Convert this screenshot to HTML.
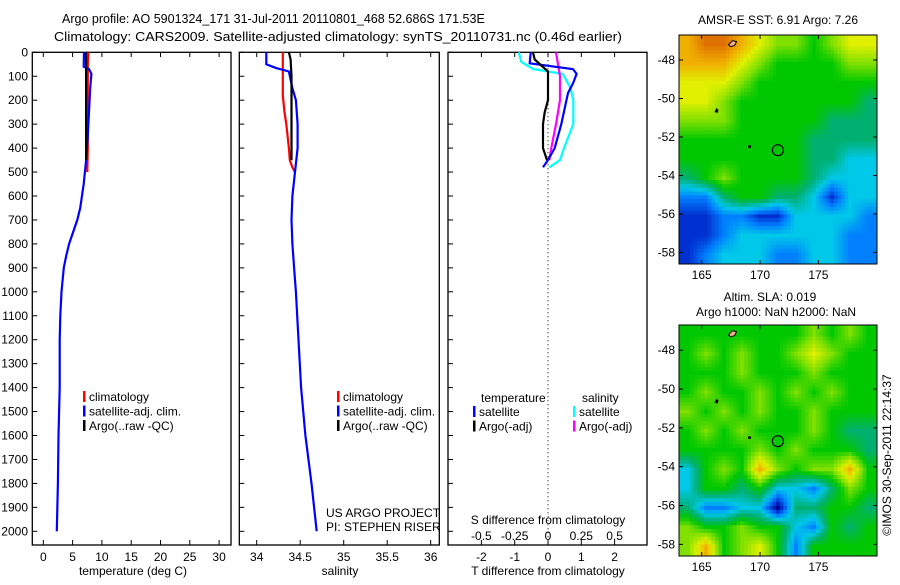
<!DOCTYPE html>
<html><head><meta charset="utf-8">
<style>
body{margin:0;background:#fff;}
svg text{font-family:"Liberation Sans",sans-serif;font-size:12px;fill:#000;}
</style></head>
<body>
<svg id="fig" width="900" height="580" viewBox="0 0 900 580" xmlns="http://www.w3.org/2000/svg">
<defs>
<clipPath id="clipA"><rect x="679" y="35" width="198" height="229"/></clipPath>
<clipPath id="clipB"><rect x="679" y="325" width="198" height="231"/></clipPath>
</defs>
<g>
<text x="62" y="23" style="font-size:12.5px">Argo profile: AO 5901324_171 31-Jul-2011 20110801_468 52.686S 171.53E</text>
<text x="54" y="41" style="font-size:13px" textLength="568" lengthAdjust="spacingAndGlyphs">Climatology: CARS2009. Satellite-adjusted climatology: synTS_20110731.nc (0.46d earlier)</text>
</g>
</svg>
<script>
// ---- data ----
const depthTicks=[0,100,200,300,400,500,600,700,800,900,1000,1100,1200,1300,1400,1500,1600,1700,1800,1900,2000];
const tempTicks=[0,5,10,15,20,25,30];
const salTicks=[34,34.5,35,35.5,36];
const tdiffTicks=[-2,-1,0,1,2];
const sdiffTicks=[-0.5,-0.25,0,0.25,0.5];
const sdiffLabels=["-0.5","-0.25","0","0.25","0.5"];
const tClimDepth=[0,50,100,200,300,400,500];
const tClimVal=[7.7,7.6,7.6,7.6,7.6,7.6,7.5];
const tSatDepth=[0,60,70,90,150,250,350,450,550,650,700,750,800,850,900,1000,1100,1200,1400,1600,1800,2000];
const tSatVal=[6.95,6.9,7.8,8.2,8.0,7.8,7.6,7.3,6.9,6.3,5.8,5.1,4.4,3.9,3.5,3.1,2.9,2.8,2.8,2.6,2.5,2.3];
const tArgoDepth=[0,100,200,300,450];
const tArgoVal=[7.3,7.3,7.3,7.3,7.3];
const sClimDepth=[0,180,250,300,400,450,480,500];
const sClimVal=[34.30,34.30,34.32,34.34,34.37,34.38,34.41,34.44];
const sSatDepth=[0,50,65,80,150,200,300,400,500,600,700,800,900,1000,1200,1400,1600,1800,2000];
const sSatVal=[34.11,34.11,34.22,34.37,34.41,34.45,34.47,34.47,34.44,34.41,34.40,34.41,34.43,34.45,34.48,34.51,34.56,34.63,34.69];
const sArgoDepth=[0,30,100,200,300,450];
const sArgoVal=[34.37,34.39,34.40,34.40,34.40,34.40];
const dTSatDepth=[0,46,70,90,130,170,300,400,450,480];
const dTSatVal=[-0.52,-0.55,0.75,0.86,0.75,0.6,0.4,0.2,0.0,-0.15];
const dTArgoDepth=[0,30,80,200,250,300,400,450];
const dTArgoVal=[-0.45,-0.4,0.0,0.0,-0.1,-0.15,-0.15,-0.03];
const dSSatDepth=[0,40,70,90,150,200,300,400,450,480];
const dSSatVal=[-0.22,-0.2,-0.11,0.11,0.17,0.19,0.19,0.12,0.09,0.01];
const dSArgoDepth=[0,100,200,300,400,450];
const dSArgoVal=[0.06,0.09,0.09,0.06,0.025,0.01];
const latTicks=[-48,-50,-52,-54,-56,-58];
const lonTicks=[165,170,175];
const sstGrid=[
[8,9,9,8,7,6,6,5,6,7,7],
[8,8,8,7,6,5,5,5,5,6,6],
[7,7,7,6,5,5,5,5,5,5,5],
[7,7,6,5,5,5,5,5,5,5,4],
[6,6,6,5,5,5,5,5,4,4,4],
[5,5,5,5,5,5,5,4,4,4,4],
[5,5,5,5,5,5,5,4,4,3,3],
[4,5,6,5,5,5,5,4,3,3,3],
[2,2,4,5,5,4,4,3,1,3,3],
[1,1,2,2,1,1,3,3,3,3,2],
[1,1,2,3,3,3,3,3,3,2,2],
[1,2,3,3,3,2,2,3,3,2,2]];
const slaGrid=[
[5,5,5,5,5,5,5,6,5,6,5],
[5,6,5,6,5,5,6,7,6,5,5],
[5,5,5,6,5,5,5,6,5,5,5],
[5,6,5,5,6,5,6,5,6,5,5],
[6,5,6,5,6,5,5,6,5,5,5],
[5,6,5,6,5,5,5,6,5,4,4],
[5,5,5,5,6,5,6,5,5,5,4],
[3,5,6,5,8,6,5,6,6,8,5],
[3,5,5,4,5,3,3,2,4,6,5],
[4,2,2,3,3,0,4,4,5,5,4],
[6,5,5,6,5,5,3,2,5,4,5],
[6,8,5,6,7,5,2,5,5,5,5]];
const cmap=["#00008f","#0030d0","#0080ff","#00c8e8","#00b070","#00c800","#80e000","#e0f000","#f0b000","#e07000"];

// ---- helpers ----
const svg=document.getElementById('fig');
const NS="http://www.w3.org/2000/svg";
function mk(tag,attrs,parent){const e=document.createElementNS(NS,tag);for(const k in attrs)e.setAttribute(k,attrs[k]);(parent||svg).appendChild(e);return e;}
function txt(x,y,s,anchor,parent){const t=mk('text',{x:x,y:y,'text-anchor':anchor||'start'},parent);t.textContent=s;return t;}
const Y0=52.3,PY=0.2395;
const yD=d=>Y0+d*PY;
const xT=v=>43.3+v*5.86;
const xS=v=>256.7+(v-34)*87;
const xDT=v=>548+v*33.3;
const xDS=v=>548+v*4*33.3;

function panel(name,x0,x1){
  const g=mk('g',{});
  
  
  mk('rect',{x:x0,y:52.3,width:x1-x0,height:545-52.3,fill:'none',stroke:'#000','stroke-width':1.3},g);
  depthTicks.forEach(d=>{mk('line',{x1:x0,x2:x0+5,y1:yD(d),y2:yD(d),stroke:'#000'},g);});
  return g;
}
function series(g,name,depths,vals,xf,color,w){
  const p=depths.map((d,i)=>xf(vals[i]).toFixed(1)+','+yD(d).toFixed(1)).join(' ');
  const l=mk('polyline',{points:p,fill:'none',stroke:color,'stroke-width':w||2.2},g);
  
  
}
function xticks(g,ticks,labels,xf,y,top){
  ticks.forEach((t,i)=>{
    mk('line',{x1:xf(t),x2:xf(t),y1:545,y2:540,stroke:'#000'},g);
    if(top) mk('line',{x1:xf(t),x2:xf(t),y1:52.3,y2:57,stroke:'#000'},g);
    txt(xf(t),y,labels[i],'middle',g);
  });
}
function legend(g,x,y,items){
  items.forEach((it,i)=>{
    mk('rect',{x:x,y:y+i*14.5-10,width:2.5,height:11,fill:it[1]},g);
    const t=txt(x+6,y+i*14.5,it[0],'start',g);
    
    
  });
}

// depth axis labels
const dl=mk('g',{});


depthTicks.forEach(d=>txt(28,yD(d)+4,String(d),'end',dl));

// panel 1: temperature
const p1=panel('temperature-panel',32.3,231);
xticks(p1,tempTicks,tempTicks.map(String),xT,561,true);
txt(133,575,'temperature (deg C)','middle',p1);
series(p1,'temp-climatology-line',tClimDepth,tClimVal,xT,'#ff0000');
series(p1,'temp-satellite-line',tSatDepth,tSatVal,xT,'#0000ff');
series(p1,'temp-argo-line',tArgoDepth,tArgoVal,xT,'#000000');
legend(p1,83,401,[['climatology','#ff0000'],['satellite-adj. clim.','#0000ff'],['Argo(..raw -QC)','#000000']]);

// panel 2: salinity
const p2=panel('salinity-panel',239.3,439.3);
xticks(p2,salTicks,salTicks.map(String),xS,561,true);
txt(340,575,'salinity','middle',p2);
series(p2,'sal-climatology-line',sClimDepth,sClimVal,xS,'#ff0000');
series(p2,'sal-satellite-line',sSatDepth,sSatVal,xS,'#0000ff');
series(p2,'sal-argo-line',sArgoDepth,sArgoVal,xS,'#000000');
legend(p2,337,401,[['climatology','#ff0000'],['satellite-adj. clim.','#0000ff'],['Argo(..raw -QC)','#000000']]);
txt(326,517,'US ARGO PROJECT','start',p2);
txt(326,531,'PI: STEPHEN RISER','start',p2);

// panel 3: differences
const p3=panel('difference-panel',448,647);
mk('line',{x1:xDT(0),x2:xDT(0),y1:52.3,y2:545,stroke:'#000','stroke-dasharray':'1,3'},p3);
tdiffTicks.forEach(t=>{mk('line',{x1:xDT(t),x2:xDT(t),y1:545,y2:540,stroke:'#000'},p3);mk('line',{x1:xDT(t),x2:xDT(t),y1:52.3,y2:57,stroke:'#000'},p3);txt(xDT(t),561,String(t),'middle',p3);});
sdiffTicks.forEach((t,i)=>txt(xDS(t),540,sdiffLabels[i],'middle',p3));
txt(548,524,'S difference from climatology','middle',p3);
txt(548,575,'T difference from climatology','middle',p3);
series(p3,'sdiff-satellite-line',dSSatDepth,dSSatVal,xDS,'#00ffff');
series(p3,'sdiff-argo-line',dSArgoDepth,dSArgoVal,xDS,'#ff00ff');
series(p3,'tdiff-satellite-line',dTSatDepth,dTSatVal,xDT,'#0000ff');
series(p3,'tdiff-argo-line',dTArgoDepth,dTArgoVal,xDT,'#000000');
txt(481,402,'temperature','start',p3);
txt(582,402,'salinity','start',p3);
legend(p3,473,416,[['satellite','#0000ff'],['Argo(-adj)','#000000']]);
legend(p3,573,416,[['satellite','#00ffff'],['Argo(-adj)','#ff00ff']]);

// colour interpolation
function hex2rgb(h){return [parseInt(h.substr(1,2),16),parseInt(h.substr(3,2),16),parseInt(h.substr(5,2),16)];}
const cmapRGB=cmap.map(hex2rgb);
function colorOf(v){
  v=Math.max(0,Math.min(cmap.length-1,v));
  const i=Math.min(Math.floor(v),cmap.length-2),f=v-i;
  const a=cmapRGB[i],b=cmapRGB[i+1];
  return 'rgb('+a.map((c,k)=>Math.round(c+(b[k]-c)*f)).join(',')+')';
}
function sample(grid,r,c){
  const R=grid.length,C=grid[0].length;
  r=Math.max(0,Math.min(R-1,r));c=Math.max(0,Math.min(C-1,c));
  const r0=Math.min(Math.floor(r),R-2),c0=Math.min(Math.floor(c),C-2);
  const fr=r-r0,fc=c-c0;
  const a=grid[r0][c0],b=grid[r0][c0+1],cc=grid[r0+1][c0],d=grid[r0+1][c0+1];
  return a*(1-fr)*(1-fc)+b*(1-fr)*fc+cc*fr*(1-fc)+d*fr*fc;
}

// maps
function map(name,grid,top,h,clip){
  const g=mk('g',{});
  
  
  const L=679,W=198;
  const lonX=v=>701.7+(v-165)*11.67;
  const latY=v=>top+(-46.7-v)*(h/11.9);
  const cg=mk('g',{'clip-path':'url(#'+clip+')'},g);
  const rows=grid.length,cols=grid[0].length,cw=W/cols,ch=h/rows;
  const SUB=5,sw=cw/SUB,sh=ch/SUB;
  for(let i=0;i<rows*SUB;i++){
    for(let j=0;j<cols*SUB;j++){
      const r=(i+0.5)/SUB-0.5,c=(j+0.5)/SUB-0.5;
      const v=sample(grid,r,c);
      const cell=mk('rect',{x:(L+j*sw).toFixed(2),y:(top+i*sh).toFixed(2),width:(sw+0.6).toFixed(2),height:(sh+0.6).toFixed(2),fill:colorOf(v)},cg);
      
      
    }
  }
  // islands
  mk('path',{d:`M${lonX(167.3)},${latY(-47.2)} l4,-4 l4,1 l-2,4 l-4,1z`,fill:'#f0b090',stroke:'#000'},cg);
  mk('path',{d:`M${lonX(166.1)},${latY(-50.7)} l2,-4 l2,2 l-1,3z`,fill:'#000'},cg);
  mk('circle',{cx:lonX(169.1),cy:latY(-52.5),r:1.5,fill:'#000'},cg);
  const prof=mk('circle',{cx:lonX(171.53),cy:latY(-52.686),r:5.5,fill:'none',stroke:'#000','stroke-width':1.2},g);
  
  
  mk('rect',{x:L,y:top,width:W,height:h,fill:'none',stroke:'#000'},g);
  latTicks.forEach(v=>{mk('line',{x1:L,x2:L+4,y1:latY(v),y2:latY(v),stroke:'#000'},g);mk('line',{x1:L+W,x2:L+W-4,y1:latY(v),y2:latY(v),stroke:'#000'},g);txt(L-4,latY(v)+4,String(v),'end',g);});
  lonTicks.forEach(v=>{mk('line',{x1:lonX(v),x2:lonX(v),y1:top,y2:top+4,stroke:'#000'},g);mk('line',{x1:lonX(v),x2:lonX(v),y1:top+h,y2:top+h-4,stroke:'#000'},g);txt(lonX(v),top+h+15,String(v),'middle',g);});
}
map('sst-map',sstGrid,35,229,'clipA');
map('sla-map',slaGrid,325,231,'clipB');
const mt=mk('g',{});


txt(778,24,'AMSR-E SST: 6.91  Argo: 7.26','middle',mt);
txt(770,301,'Altim. SLA: 0.019','middle',mt);
txt(776,316,'Argo h1000: NaN h2000: NaN','middle',mt);
const cr=txt(0,0,'©IMOS 30-Sep-2011 22:14:37','middle',mt);
cr.setAttribute('transform','translate(891,455) rotate(-90)');
</script>
</body></html>
